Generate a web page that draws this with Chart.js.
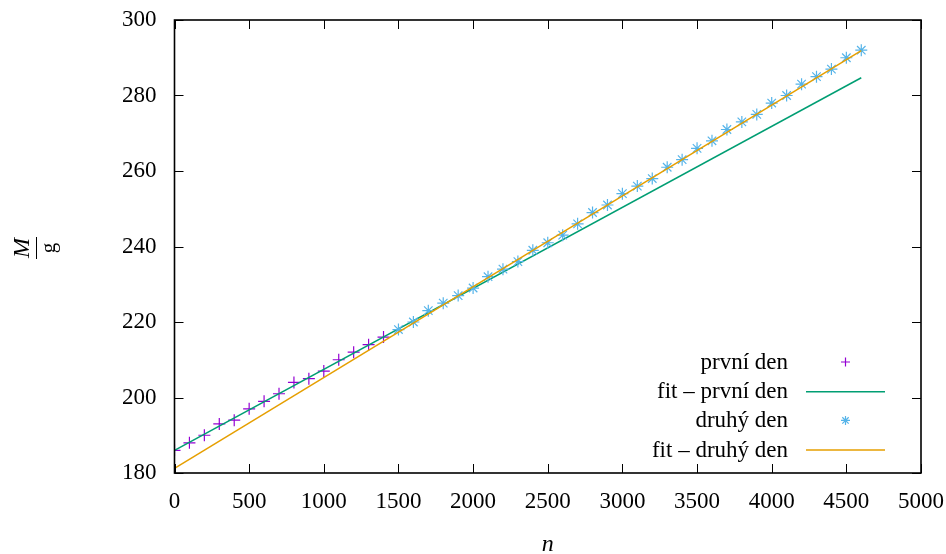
<!DOCTYPE html>
<html>
<head>
<meta charset="utf-8">
<script src="https://cdn.jsdelivr.net/npm/chart.js@4/dist/chart.umd.min.js"></script>
<style>
  html, body { margin: 0; padding: 0; background: #fff; }
  #wrap { width: 946px; height: 554px; }
</style>
</head>
<body>
<div id="wrap"><canvas id="massGraph" width="946" height="554"></canvas></div>
<script>
// data
const firstDayN = [0, 100, 200, 300, 400, 500, 600, 700, 800, 900, 1000, 1100, 1200, 1300, 1400];
const firstDayM = [186, 188, 190, 193, 194, 197, 199, 201, 204, 205, 207, 210, 212, 214, 216];

const secondDayN = [1500, 1600, 1700, 1800, 1900, 2000, 2100, 2200, 2300, 2400, 2500, 2600, 2700, 2800, 2900, 3000,
    3100, 3200, 3300, 3400, 3500, 3600, 3700, 3800, 3900, 4000, 4100, 4200, 4300, 4400, 4500, 4600];
const secondDayM = [218, 220, 223, 225, 227, 229, 232, 234, 236, 239, 241, 243, 246, 249, 251, 254,
    256, 258, 261, 263, 266, 268, 271, 273, 275, 278, 280, 283, 285, 287, 290, 292];

// fit lines, end points
const fitN = [0, 4600];
const fitFirstM = [186.0, 284.7];
const fitSecondM = [181.2, 291.9];

const seriesLabels = ["první den", "fit – první den", "druhý den", "fit – druhý den"];
const seriesColors = ["#9400D3", "#009E73", "#56B4E9", "#E69F00"];

const xTicks = [0, 500, 1000, 1500, 2000, 2500, 3000, 3500, 4000, 4500, 5000];
const yTicks = [180, 200, 220, 240, 260, 280, 300];

const FONT = "'Liberation Serif', 'DejaVu Serif', serif";

function to_points(xs, ys) {
    return xs.map((x, i) => ({ x: x, y: ys[i] }));
}

// gnuplot style frame with inward ticks on all four sides
const framePlugin = {
    id: 'frame',
    afterDraw(chart) {
        const ctx = chart.ctx;
        const a = chart.chartArea;
        const xs = chart.scales.x;
        const ys = chart.scales.y;
        const tl = 9;
        ctx.save();
        ctx.strokeStyle = '#000';
        ctx.lineWidth = 1;
        ctx.beginPath();
        xTicks.forEach(v => {
            const px = Math.round(xs.getPixelForValue(v)) + 0.5;
            ctx.moveTo(px, a.bottom); ctx.lineTo(px, a.bottom - tl);
            ctx.moveTo(px, a.top); ctx.lineTo(px, a.top + tl);
        });
        yTicks.forEach(v => {
            const py = Math.round(ys.getPixelForValue(v)) + 0.5;
            ctx.moveTo(a.left, py); ctx.lineTo(a.left + tl, py);
            ctx.moveTo(a.right, py); ctx.lineTo(a.right - tl, py);
        });
        ctx.stroke();
        ctx.lineWidth = 1.6;
        ctx.strokeRect(a.left, a.top, a.right - a.left, a.bottom - a.top);

        // axis titles
        ctx.fillStyle = '#000';
        ctx.textAlign = 'center';
        ctx.textBaseline = 'middle';
        ctx.font = "italic 24px " + FONT;
        ctx.fillText('n', (a.left + a.right) / 2, 545);

        ctx.translate(36, 248);
        ctx.rotate(-Math.PI / 2);
        ctx.fillText('M', 0, -13);
        ctx.font = "21px " + FONT;
        ctx.fillText('g', 0, 13);
        ctx.lineWidth = 1;
        ctx.beginPath();
        ctx.moveTo(-11, 0.5); ctx.lineTo(11, 0.5);
        ctx.stroke();
        ctx.restore();
    }
};

// legend: text right aligned, sample on the right
const keyPlugin = {
    id: 'key',
    afterDatasetsDraw(chart) {
        const ctx = chart.ctx;
        const textRight = 788;
        const sampleLeft = 806;
        const sampleRight = 885;
        const rowTop = 362;
        const rowStep = 29.2;
        ctx.save();
        ctx.font = "23px " + FONT;
        ctx.textAlign = 'right';
        ctx.textBaseline = 'middle';
        chart.data.datasets.forEach((ds, i) => {
            const y = rowTop + i * rowStep;
            ctx.fillStyle = '#000';
            ctx.fillText(seriesLabels[i], textRight, y + 1);
            if (ds.showLine) {
                ctx.strokeStyle = seriesColors[i];
                ctx.lineWidth = 1.5;
                ctx.beginPath();
                ctx.moveTo(sampleLeft, y + 0.5);
                ctx.lineTo(sampleRight, y + 0.5);
                ctx.stroke();
            } else {
                ctx.strokeStyle = seriesColors[i];
                ctx.fillStyle = seriesColors[i];
                ctx.lineWidth = 1.2;
                Chart.helpers.drawPoint(ctx, {
                    pointStyle: ds.pointStyle,
                    radius: 4.5,
                    rotation: 0,
                    borderWidth: 1.2
                }, (sampleLeft + sampleRight) / 2, y);
            }
        });
        ctx.restore();
    }
};

const config = {
    type: 'scatter',
    data: {
        datasets: [
            {
                label: seriesLabels[0],
                data: to_points(firstDayN, firstDayM),
                pointStyle: 'cross',
                radius: 6,
                borderColor: seriesColors[0],
                backgroundColor: seriesColors[0],
                borderWidth: 1.2,
                showLine: false,
                order: 4
            },
            {
                label: seriesLabels[1],
                data: to_points(fitN, fitFirstM),
                showLine: true,
                pointRadius: 0,
                borderColor: seriesColors[1],
                borderWidth: 1.5,
                order: 3
            },
            {
                label: seriesLabels[2],
                data: to_points(secondDayN, secondDayM),
                pointStyle: 'star',
                radius: 6,
                borderColor: seriesColors[2],
                backgroundColor: seriesColors[2],
                borderWidth: 1.2,
                showLine: false,
                order: 2
            },
            {
                label: seriesLabels[3],
                data: to_points(fitN, fitSecondM),
                showLine: true,
                pointRadius: 0,
                borderColor: seriesColors[3],
                borderWidth: 1.5,
                order: 1
            }
        ]
    },
    options: {
        responsive: false,
        animation: false,
        layout: { padding: { left: 0, right: 25, top: 20, bottom: 0 } },
        plugins: {
            legend: { display: false },
            tooltip: { enabled: false }
        },
        scales: {
            x: {
                type: 'linear',
                min: 0,
                max: 5000,
                afterBuildTicks: scale => { scale.ticks = xTicks.map(v => ({ value: v })); },
                afterFit: scale => {
                    scale.height = 81;
                    scale.paddingLeft = 0;
                    scale.paddingRight = 0;
                },
                grid: { display: false },
                border: { display: false },
                ticks: {
                    padding: 7,
                    color: '#000',
                    maxRotation: 0,
                    callback: v => String(v),
                    font: { family: FONT, size: 23 }
                }
            },
            y: {
                type: 'linear',
                min: 180,
                max: 300,
                afterBuildTicks: scale => { scale.ticks = yTicks.map(v => ({ value: v })); },
                afterFit: scale => {
                    scale.width = 174.5;
                    scale.paddingTop = 0;
                    scale.paddingBottom = 0;
                },
                grid: { display: false },
                border: { display: false },
                ticks: {
                    padding: 10,
                    color: '#000',
                    callback: v => String(v),
                    font: { family: FONT, size: 23 }
                }
            }
        }
    },
    plugins: [framePlugin, keyPlugin]
};

const massGraph = new Chart("massGraph", config);
</script>
</body>
</html>
